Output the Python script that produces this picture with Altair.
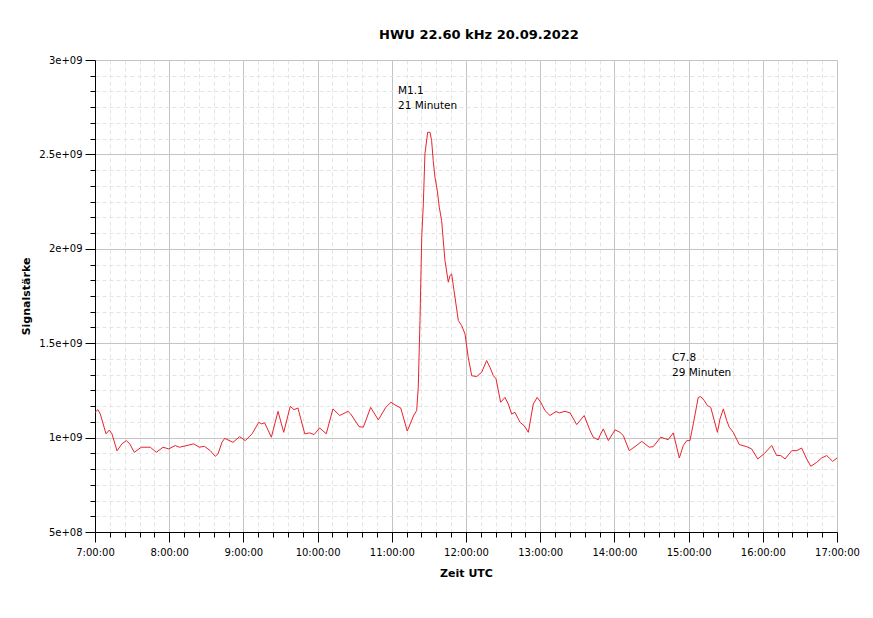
import altair as alt
import pandas as pd

# time in minutes after 7:00 UTC, signal in units of 1e9
MINUTES = [0, 2.4, 4.3, 8.9, 11.6, 13.7, 17.8, 21.8, 25.3, 28.1, 31.8, 37.4, 44.7, 49.6, 55, 59.6,
           64.9, 68.2, 74.4, 79.8, 84.3, 88.4, 93.2, 97.3, 99.5, 102.7, 104.9, 111.6, 117, 121.5,
           127, 132.4, 134.5, 137.2, 142.6, 148, 152.6, 157.9, 160.9, 164.1, 169.6, 173.6, 177.1,
           181.7, 187, 192.4, 197.9, 204.6, 206.8, 213.5, 217, 222.9, 229.1, 235.1, 239.3, 243.4,
           247.2, 252.5, 257.9, 260.1, 261.4, 262.8, 264.2, 265.5, 266.8, 269, 270.9, 272.2, 273.5,
           274.9, 276.8, 278.4, 280.3, 283, 285.7, 287, 288.4, 290.3, 293.8, 296.5, 299.2, 301.8,
           304.6, 308.6, 312.7, 316.7, 319.4, 322.1, 324.3, 328, 331.5, 334.2, 336.9, 339.6, 343.7,
           346.9, 350.4, 354.4, 357.6, 360.4, 363.9, 367.9, 372.8, 375.4, 380, 384.1, 389.5, 395.6,
           400.3, 402.9, 407, 408.3, 411, 415.1, 420.5, 424.5, 427.2, 432, 436.6, 442.1, 448.2,
           451.4, 457.4, 463.5, 467.6, 472.5, 475.7, 478.5, 481.1, 483.8, 487.8, 489.8, 492.7,
           495.2, 497.9, 503.3, 505.4, 508.1, 510.8, 512.9, 516.1, 521, 527, 531, 535.9, 541,
           547.2, 551.2, 554.5, 558, 563.4, 567.5, 571.4, 575.5, 578.8, 583.6, 587.6, 591.7,
           596.5, 600]
SIGNAL = [1.134, 1.148, 1.125, 1.02, 1.04, 1.02, 0.93, 0.967, 0.984, 0.967, 0.922, 0.949, 0.949,
          0.922, 0.949, 0.94, 0.958, 0.949, 0.958, 0.967, 0.949, 0.954, 0.931, 0.901, 0.914, 0.975,
          0.996, 0.975, 1.005, 0.984, 1.02, 1.081, 1.073, 1.078, 1.002, 1.139, 1.028, 1.166, 1.148,
          1.157, 1.02, 1.025, 1.016, 1.051, 1.02, 1.152, 1.117, 1.139, 1.125, 1.058, 1.055, 1.16,
          1.094, 1.16, 1.187, 1.17, 1.157, 1.035, 1.12, 1.143, 1.266, 1.62, 2.061, 2.238, 2.503,
          2.617, 2.617, 2.573, 2.467, 2.379, 2.308, 2.22, 2.149, 1.937, 1.823, 1.858, 1.867, 1.779,
          1.62, 1.593, 1.549, 1.425, 1.328, 1.323, 1.346, 1.408, 1.372, 1.328, 1.311, 1.187, 1.213,
          1.178, 1.125, 1.134, 1.081, 1.064, 1.028, 1.178, 1.213, 1.187, 1.143, 1.117, 1.138, 1.131,
          1.139, 1.131, 1.069, 1.117, 1.037, 1.002, 0.988, 1.011, 1.046, 0.984, 1.041, 1.028, 1.011,
          0.931, 0.952, 0.98, 0.949, 0.952, 1.002, 0.989, 1.025, 0.892, 0.958, 0.984, 0.984, 1.073,
          1.213, 1.217, 1.196, 1.17, 1.16, 1.028, 1.099, 1.152, 1.09, 1.055, 1.028, 0.963, 0.952,
          0.94, 0.887, 0.914, 0.958, 0.905, 0.905, 0.887, 0.931, 0.931, 0.945, 0.887, 0.848, 0.869,
          0.892, 0.905, 0.874, 0.892]

ANNOT_TEXT = ["M1.1\n21 Minuten", "C7.8\n29 Minuten"]
ANNOT_MIN = [245, 466.6]
ANNOT_VAL = [2.864, 1.450]

TITLE = "HWU 22.60 kHz 20.09.2022"
X_TITLE = "Zeit UTC"
Y_TITLE = "Signalstärke"

START = 420  # 7:00 in minutes of day
END = 1020   # 17:00

df = pd.DataFrame({"t": [START + m for m in MINUTES], "v": [s * 1e9 for s in SIGNAL]})
ann = pd.DataFrame({"t": [START + m for m in ANNOT_MIN], "v": [a * 1e9 for a in ANNOT_VAL],
                    "txt": ANNOT_TEXT})

FONT = "DejaVu Sans"
x_major = "datum.value % 60 === 0"
y_major = "abs(datum.value/5e8 - round(datum.value/5e8)) < 1e-6"

x_values = list(range(START, END + 1, 12))
y_values = [5e8 + i * 5e8 / 6 for i in range(31)]

x_scale = alt.Scale(domain=[START, END], nice=False, zero=False)
y_scale = alt.Scale(domain=[5e8, 3e9], nice=False, zero=False)

x_axis = alt.Axis(
    title=X_TITLE, values=x_values, tickCount=len(x_values) + 5,
    labelExpr=f"{x_major} ? floor(datum.value/60) + ':00:00' : ''",
    labelFlush=False, labelOverlap=False, labelFont=FONT, labelFontSize=10, labelColor="black",
    labelPadding=5, titleFont=FONT, titleFontSize=11, titleFontWeight="bold", titleColor="black",
    titlePadding=10,
    domainColor="black", tickColor="black",
    tickSize={"condition": {"test": x_major, "value": 10}, "value": 5},
    gridColor={"condition": {"test": x_major, "value": "#c4c4c4"}, "value": "#e4e4e4"},
    gridDash={"condition": {"test": x_major, "value": []}, "value": [4, 3]},
)
y_axis = alt.Axis(
    title=Y_TITLE, values=y_values, tickCount=len(y_values) + 5,
    labelExpr=f"{y_major} ? replace(format(datum.value, '.2~e'), 'e+', 'e+0') : ''",
    labelFlush=False, labelOverlap=False, labelFont=FONT, labelFontSize=10, labelColor="black",
    labelPadding=3, titleFont=FONT, titleFontSize=11, titleFontWeight="bold", titleColor="black",
    titlePadding=7,
    domainColor="black", tickColor="black",
    tickSize={"condition": {"test": y_major, "value": 10}, "value": 5},
    gridColor={"condition": {"test": y_major, "value": "#c4c4c4"}, "value": "#e4e4e4"},
    gridDash={"condition": {"test": y_major, "value": []}, "value": [4, 3]},
)

line = alt.Chart(df).mark_line(color="#e8232a", strokeWidth=1).encode(
    x=alt.X("t:Q", scale=x_scale, axis=x_axis),
    y=alt.Y("v:Q", scale=y_scale, axis=y_axis),
)

labels = alt.Chart(ann).mark_text(
    align="left", baseline="top", lineBreak="\n", font=FONT, fontSize=10.5, lineHeight=15,
    color="black",
).encode(
    x=alt.X("t:Q", scale=x_scale),
    y=alt.Y("v:Q", scale=y_scale),
    text="txt:N",
)

chart = alt.layer(line, labels).properties(
    width=742, height=472,
    title=alt.TitleParams(TITLE, font=FONT, fontSize=13, fontWeight="bold", color="black",
                          anchor="middle", dx=13, offset=13),
    autosize=alt.AutoSizeParams(type="none"),
    padding={"left": 87, "top": 52, "right": 28, "bottom": 78},
).configure_view(stroke=None).configure(background="white")

chart.save("out.html", embed_options={"renderer": "svg", "actions": False})
